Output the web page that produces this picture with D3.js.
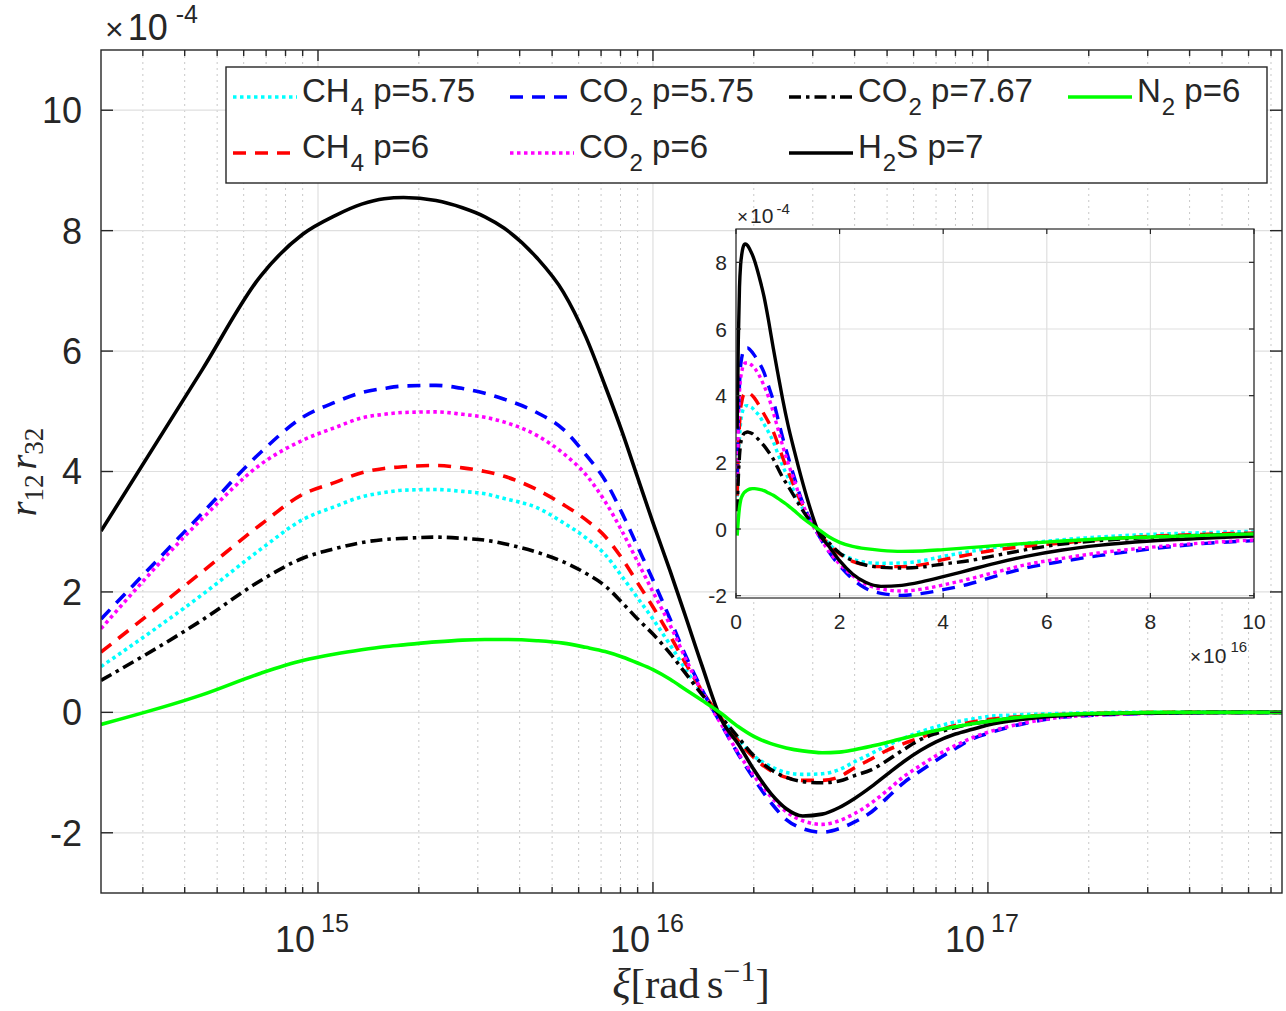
<!DOCTYPE html>
<html>
<head>
<meta charset="utf-8">
<script src="https://cdn.jsdelivr.net/npm/d3@7"></script>
<style>
  html, body { margin: 0; padding: 0; background: #fff; }
  svg { display: block; }
  text { font-family: "Liberation Sans", Arial, Helvetica, sans-serif; fill: #262626; }
  .tex { font-family: "Liberation Serif", "DejaVu Serif", serif; fill: #262626; }
</style>
</head>
<body>
<svg id="chart" width="1286" height="1011"></svg>
<script>
// ---------------- data (values in units of 1e-4) ----------------
const xi = [2.25e14, 4.5e14, 6.75e14, 9e14, 1.125e15, 1.35e15, 1.575e15, 1.8e15,
  2.25e15, 2.7e15, 3.15e15, 3.6e15, 4.5e15, 5.4e15, 6.3e15, 7.2e15, 8.1e15, 9e15,
  1e16, 1.125e16, 1.25e16, 1.4e16, 1.6e16, 1.8e16, 2e16, 2.25e16, 2.5e16, 2.8e16,
  3.2e16, 3.6e16, 4e16, 4.5e16, 5e16, 5.6e16, 6.3e16, 7e16, 8e16, 9e16, 1e17,
  1.25e17, 1.6e17, 2e17, 2.5e17, 3.2e17, 4e17, 5e17, 6.3e17, 7.55e17];

const ch4_p575 = [0.76, 1.95, 2.71, 3.2, 3.42, 3.58, 3.65, 3.69, 3.70, 3.67, 3.63, 3.55, 3.4, 3.15, 2.9, 2.62,
  2.25, 1.9, 1.55, 1.12, 0.72, 0.32, -0.08, -0.45, -0.72, -0.9, -1.0, -1.03, -1.02, -0.95, -0.82, -0.68,
  -0.55, -0.43, -0.32, -0.24, -0.16, -0.11, -0.07, -0.04, -0.02, -0.01, 0, 0, 0, 0, 0, 0];
const ch4_p6 = [1.0, 2.33, 3.12, 3.62, 3.82, 3.98, 4.05, 4.08, 4.10, 4.06, 4.0, 3.92, 3.7, 3.45, 3.2, 2.92,
  2.55, 2.15, 1.75, 1.27, 0.82, 0.36, -0.1, -0.48, -0.75, -0.97, -1.08, -1.13, -1.13, -1.07, -0.92, -0.77,
  -0.63, -0.52, -0.42, -0.32, -0.22, -0.16, -0.12, -0.07, -0.04, -0.02, -0.01, 0, 0, 0, 0, 0];
const co2_p575 = [1.55, 3.3, 4.32, 4.9, 5.15, 5.31, 5.38, 5.42, 5.43, 5.38, 5.3, 5.2, 4.98, 4.7, 4.28, 3.85,
  3.3, 2.75, 2.2, 1.55, 0.95, 0.38, -0.2, -0.7, -1.1, -1.5, -1.78, -1.93, -1.99, -1.93, -1.82, -1.65,
  -1.42, -1.17, -0.97, -0.8, -0.6, -0.44, -0.35, -0.2, -0.09, -0.05, -0.03, -0.015, -0.01, 0, 0, 0];
const co2_p6 = [1.39, 3.21, 4.12, 4.52, 4.73, 4.89, 4.95, 4.98, 4.99, 4.95, 4.9, 4.82, 4.6, 4.3, 3.95, 3.5,
  3.0, 2.5, 2.0, 1.45, 0.9, 0.35, -0.2, -0.68, -1.05, -1.4, -1.65, -1.8, -1.86, -1.8, -1.68, -1.5,
  -1.3, -1.07, -0.88, -0.72, -0.55, -0.42, -0.33, -0.19, -0.09, -0.05, -0.03, -0.015, -0.01, 0, 0, 0];
const co2_p767 = [0.53, 1.53, 2.19, 2.56, 2.72, 2.82, 2.87, 2.89, 2.91, 2.89, 2.86, 2.8, 2.66, 2.5, 2.31, 2.1,
  1.82, 1.55, 1.3, 0.98, 0.65, 0.3, -0.08, -0.42, -0.72, -0.95, -1.08, -1.15, -1.17, -1.14, -1.05, -0.95,
  -0.8, -0.62, -0.45, -0.35, -0.25, -0.19, -0.15, -0.09, -0.05, -0.03, -0.015, -0.01, 0, 0, 0, 0];
const h2s_p7 = [3.01, 5.68, 7.25, 7.94, 8.25, 8.44, 8.53, 8.55, 8.50, 8.38, 8.23, 8.04, 7.55, 6.98, 6.24, 5.42,
  4.65, 3.9, 3.15, 2.35, 1.6, 0.78, -0.12, -0.53, -0.95, -1.35, -1.6, -1.72, -1.69, -1.58, -1.43, -1.23,
  -1.03, -0.82, -0.63, -0.49, -0.36, -0.28, -0.21, -0.12, -0.06, -0.03, -0.02, -0.01, -0.005, 0, 0, 0];
const n2_p6 = [-0.2, 0.29, 0.65, 0.86, 0.97, 1.04, 1.09, 1.12, 1.17, 1.2, 1.21, 1.21, 1.19, 1.15, 1.08, 1.01,
  0.92, 0.82, 0.71, 0.55, 0.38, 0.2, -0.02, -0.24, -0.4, -0.52, -0.59, -0.64, -0.67, -0.66, -0.62, -0.56,
  -0.5, -0.43, -0.36, -0.3, -0.24, -0.19, -0.15, -0.08, -0.04, -0.02, -0.01, 0, 0, 0, 0, 0];

// legend labels: [base, subscript, rest]
const legendLabels = [
  ["CH", "4", " p=5.75"], ["CO", "2", " p=5.75"], ["CO", "2", " p=7.67"], ["N", "2", " p=6"],
  ["CH", "4", " p=6"], ["CO", "2", " p=6"], ["H", "2", "S p=7"]
];

// ticks
const yTicks = [-2, 0, 2, 4, 6, 8, 10];
const xMajorTicks = [1e15, 1e16, 1e17];
const xMajorExp = ["15", "16", "17"];
const insetXTicks = [0, 2e16, 4e16, 6e16, 8e16, 1e17];
const insetXLabels = ["0", "2", "4", "6", "8", "10"];
const insetYTicks = [-2, 0, 2, 4, 6, 8];

// ---------------- series styling ----------------
const series = [
  { name: "ch4_p575", v: ch4_p575, color: "#00FFFF", dash: "3.5,3.5", leg: 0 },
  { name: "ch4_p6",   v: ch4_p6,   color: "#FF0000", dash: "13,9",   leg: 4 },
  { name: "co2_p575", v: co2_p575, color: "#0000FF", dash: "13,9",   leg: 1 },
  { name: "co2_p6",   v: co2_p6,   color: "#FF00FF", dash: "3.5,3.5", leg: 5 },
  { name: "co2_p767", v: co2_p767, color: "#000000", dash: "12,5,3.5,5", leg: 2 },
  { name: "h2s_p7",   v: h2s_p7,   color: "#000000", dash: null,    leg: 6 },
  { name: "n2_p6",    v: n2_p6,    color: "#00FF00", dash: null,    leg: 3 }
];

const svg = d3.select("#chart");
svg.append("rect").attr("width", 1286).attr("height", 1011).attr("fill", "#fff");
const axisColor = "#262626";
const gridColor = "#dfdfdf";
const minorGridColor = "#c8c8c8";

// ---------------- main axes ----------------
const L = 101, R = 1282, T = 50, B = 893;
const x = d3.scaleLog().domain([2.25e14, 7.55e17]).range([L, R]);
const y = d3.scaleLinear().domain([-3, 11]).range([B, T]);

const minorX = [];
for (let e = 14; e <= 17; e++) for (let k = 2; k <= 9; k++) {
  const v = k * Math.pow(10, e);
  if (v >= x.domain()[0] && v <= x.domain()[1]) minorX.push(v);
}

const gMain = svg.append("g");
gMain.selectAll(".mg").data(minorX).enter().append("line")
  .attr("x1", d => x(d)).attr("x2", d => x(d)).attr("y1", T).attr("y2", B)
  .attr("stroke", minorGridColor).attr("stroke-width", 1).attr("stroke-dasharray", "2,4");
gMain.selectAll(".gx").data(xMajorTicks).enter().append("line")
  .attr("x1", d => x(d)).attr("x2", d => x(d)).attr("y1", T).attr("y2", B)
  .attr("stroke", gridColor).attr("stroke-width", 1.2);
gMain.selectAll(".gy").data(yTicks).enter().append("line")
  .attr("x1", L).attr("x2", R).attr("y1", d => y(d)).attr("y2", d => y(d))
  .attr("stroke", gridColor).attr("stroke-width", 1.2);

svg.append("clipPath").attr("id", "clipMain").append("rect")
  .attr("x", L).attr("y", T).attr("width", R - L).attr("height", B - T);

const lineMain = d3.line().x(d => x(d[0])).y(d => y(d[1])).curve(d3.curveMonotoneX);
const gLines = svg.append("g").attr("clip-path", "url(#clipMain)");
series.forEach(s => {
  gLines.append("path").datum(xi.map((xv, i) => [xv, s.v[i]]))
    .attr("d", lineMain).attr("fill", "none").attr("stroke", s.color)
    .attr("stroke-width", 3.6).attr("stroke-dasharray", s.dash)
    .attr("stroke-linejoin", "round");
});

svg.append("rect").attr("x", L).attr("y", T).attr("width", R - L).attr("height", B - T)
  .attr("fill", "none").attr("stroke", axisColor).attr("stroke-width", 1.4);

const tk = svg.append("g").attr("stroke", axisColor).attr("stroke-width", 1.4);
xMajorTicks.forEach(d => {
  tk.append("line").attr("x1", x(d)).attr("x2", x(d)).attr("y1", B).attr("y2", B - 11);
  tk.append("line").attr("x1", x(d)).attr("x2", x(d)).attr("y1", T).attr("y2", T + 11);
});
minorX.forEach(d => {
  tk.append("line").attr("x1", x(d)).attr("x2", x(d)).attr("y1", B).attr("y2", B - 6);
  tk.append("line").attr("x1", x(d)).attr("x2", x(d)).attr("y1", T).attr("y2", T + 6);
});
yTicks.forEach(d => {
  tk.append("line").attr("x1", L).attr("x2", L + 12).attr("y1", y(d)).attr("y2", y(d));
  tk.append("line").attr("x1", R).attr("x2", R - 12).attr("y1", y(d)).attr("y2", y(d));
});

svg.selectAll(".ytl").data(yTicks).enter().append("text")
  .attr("x", 82).attr("y", d => y(d)).attr("dy", "0.36em")
  .attr("text-anchor", "end").attr("font-size", 36).text(d => d);

xMajorTicks.forEach((d, i) => {
  const t = svg.append("text").attr("x", x(d) - 6).attr("y", 952)
    .attr("text-anchor", "middle").attr("font-size", 36);
  t.append("tspan").text("10");
  t.append("tspan").attr("dx", 6).attr("dy", -20).attr("font-size", 25).text(xMajorExp[i]);
});

{
  const t = svg.append("text").attr("x", 105).attr("y", 40).attr("font-size", 36);
  t.append("tspan").attr("font-size", 32).text("\u00d7");
  t.append("tspan").attr("dx", 4).text("10");
  t.append("tspan").attr("dx", 8).attr("dy", -17).attr("font-size", 25).text("-4");
}

// axis labels
{
  const t = svg.append("text").attr("class", "tex")
    .attr("transform", "translate(36,472) rotate(-90)")
    .attr("text-anchor", "middle").attr("font-size", 38);
  t.append("tspan").attr("font-style", "italic").text("r");
  t.append("tspan").attr("font-size", 27).attr("dy", 7).text("12");
  t.append("tspan").attr("dx", 5).attr("dy", -7).attr("font-style", "italic").text("r");
  t.append("tspan").attr("font-size", 27).attr("dy", 7).text("32");
}
{
  const t = svg.append("text").attr("class", "tex")
    .attr("x", 691).attr("y", 998).attr("text-anchor", "middle").attr("font-size", 43);
  t.append("tspan").attr("font-style", "italic").text("\u03be");
  t.append("tspan").text("[rad");
  t.append("tspan").attr("dx", 7).text("s");
  t.append("tspan").attr("dy", -17).attr("font-size", 30).text("\u22121");
  t.append("tspan").attr("dy", 17).text("]");
}

// ---------------- legend ----------------
const legX = 226, legY = 67, legW = 1041, legH = 116;
svg.append("rect").attr("x", legX).attr("y", legY).attr("width", legW).attr("height", legH)
  .attr("fill", "#fff").attr("stroke", axisColor).attr("stroke-width", 1.4);
const colX = [233, 510, 789, 1068];
const rowY = [97, 153];
series.forEach(s => {
  const idx = s.leg;
  const row = idx < 4 ? 0 : 1;
  const col = idx < 4 ? idx : idx - 4;
  const lx = colX[col], ly = rowY[row];
  svg.append("line").attr("x1", lx).attr("x2", lx + 64).attr("y1", ly).attr("y2", ly)
    .attr("stroke", s.color).attr("stroke-width", 3.6).attr("stroke-dasharray", s.dash);
  const lab = legendLabels[idx];
  const t = svg.append("text").attr("x", lx + 69).attr("y", ly + 5).attr("font-size", 33);
  t.append("tspan").text(lab[0]);
  t.append("tspan").attr("dx", 1).attr("dy", 13).attr("font-size", 24).text(lab[1]);
  t.append("tspan").attr("dy", -13).text(lab[2]);
});

// ---------------- inset ----------------
const iL = 736, iR = 1254, iT = 229, iB = 598;
const xI = d3.scaleLinear().domain([0, 1e17]).range([iL, iR]);
const yI = d3.scaleLinear().domain([-2.07, 9]).range([iB, iT]);
svg.append("rect").attr("x", iL).attr("y", iT).attr("width", iR - iL).attr("height", iB - iT)
  .attr("fill", "#fff");
const gI = svg.append("g");
gI.selectAll(".igx").data(insetXTicks).enter().append("line")
  .attr("x1", d => xI(d)).attr("x2", d => xI(d)).attr("y1", iT).attr("y2", iB)
  .attr("stroke", gridColor).attr("stroke-width", 1.2);
gI.selectAll(".igy").data(insetYTicks).enter().append("line")
  .attr("x1", iL).attr("x2", iR).attr("y1", d => yI(d)).attr("y2", d => yI(d))
  .attr("stroke", gridColor).attr("stroke-width", 1.2);

svg.append("clipPath").attr("id", "clipInset").append("rect")
  .attr("x", iL).attr("y", iT).attr("width", iR - iL).attr("height", iB - iT);
const lineInset = d3.line().x(d => xI(d[0])).y(d => yI(d[1])).curve(d3.curveMonotoneX);
const gIL = svg.append("g").attr("clip-path", "url(#clipInset)");
series.forEach(s => {
  gIL.append("path").datum(xi.map((xv, i) => [xv, s.v[i]]))
    .attr("d", lineInset).attr("fill", "none").attr("stroke", s.color)
    .attr("stroke-width", 3.4).attr("stroke-dasharray", s.dash)
    .attr("stroke-linejoin", "round");
});
svg.append("rect").attr("x", iL).attr("y", iT).attr("width", iR - iL).attr("height", iB - iT)
  .attr("fill", "none").attr("stroke", axisColor).attr("stroke-width", 1.2);
const tkI = svg.append("g").attr("stroke", axisColor).attr("stroke-width", 1.2);
insetXTicks.forEach(d => {
  tkI.append("line").attr("x1", xI(d)).attr("x2", xI(d)).attr("y1", iB).attr("y2", iB - 5);
  tkI.append("line").attr("x1", xI(d)).attr("x2", xI(d)).attr("y1", iT).attr("y2", iT + 5);
});
insetYTicks.forEach(d => {
  tkI.append("line").attr("x1", iL).attr("x2", iL + 5).attr("y1", yI(d)).attr("y2", yI(d));
  tkI.append("line").attr("x1", iR).attr("x2", iR - 5).attr("y1", yI(d)).attr("y2", yI(d));
});
svg.selectAll(".iyl").data(insetYTicks).enter().append("text")
  .attr("x", 727).attr("y", d => yI(d)).attr("dy", "0.36em")
  .attr("text-anchor", "end").attr("font-size", 21).text(d => d);
svg.selectAll(".ixl").data(insetXTicks).enter().append("text")
  .attr("x", d => xI(d)).attr("y", 629)
  .attr("text-anchor", "middle").attr("font-size", 21).text((d, i) => insetXLabels[i]);
{
  const t = svg.append("text").attr("x", 737).attr("y", 223).attr("font-size", 21);
  t.append("tspan").attr("font-size", 19).text("\u00d7");
  t.append("tspan").attr("dx", 2).text("10");
  t.append("tspan").attr("dx", 3).attr("dy", -9).attr("font-size", 15).text("-4");
}
{
  const t = svg.append("text").attr("x", 1190).attr("y", 663).attr("font-size", 21);
  t.append("tspan").attr("font-size", 19).text("\u00d7");
  t.append("tspan").attr("dx", 2).text("10");
  t.append("tspan").attr("dx", 4).attr("dy", -11).attr("font-size", 15).text("16");
}
</script>
</body>
</html>
